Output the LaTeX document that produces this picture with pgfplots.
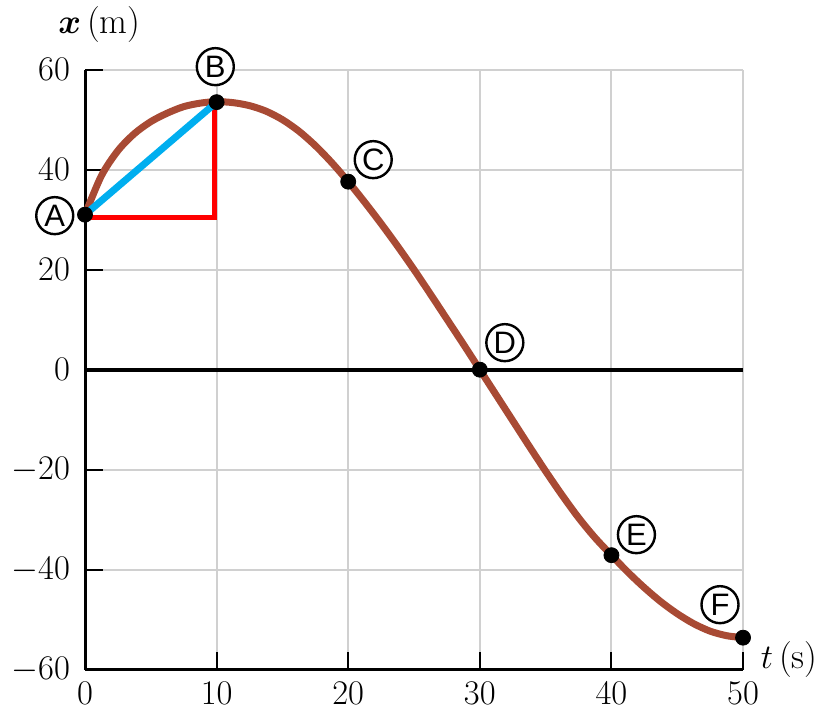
\documentclass[border=0pt]{standalone}
\usepackage{pgfplots}
\pgfplotsset{compat=1.18}
\usepackage{bm}
\usepackage{fontspec}
\newfontfamily\labelfont{Liberation Sans}

\definecolor{curvebrown}{RGB}{168,74,52}
\definecolor{chordblue}{RGB}{0,174,239}
\definecolor{gridgray}{RGB}{208,208,208}

% position x(t) of the particle
\pgfplotstableread{
t  x
0     31
1.25  38.8
2.5   43.8
3.75  47.2
5     49.6
6.25  51.3
7.5   52.6
8.75  53.3
10    53.6
11.25 53.4
12.5  52.8
13.75 51.7
15    50.0
16.25 47.7
17.5  44.8
18.75 41.4
20    37.6
21.25 33.5
22.5  29.2
23.75 24.7
25    20.0
26.25 15.1
27.5  10.1
28.75 5.1
30    0
31.25 -5.1
32.5  -10.2
33.75 -15.3
35    -20.3
36.25 -25.1
37.5  -29.6
38.75 -33.6
40    -37.1
41.25 -40.5
42.5  -43.6
43.75 -46.4
45    -48.8
46.25 -50.8
47.5  -52.3
48.75 -53.2
50    -53.6
}\position

% labelled instants A--F
\pgfplotstableread{
t  x
0  31
10 53.5
20 37.6
30 0
40 -37.1
50 -53.6
}\instants

\tikzset{
  pt/.style={circle, draw=black, fill=white, line width=1.2pt,
    minimum size=18.5pt, inner sep=0pt,
    font=\labelfont\fontsize{15.5}{15.5}\selectfont}
}

\begin{document}
\begin{tikzpicture}
\begin{axis}[
  scale only axis, width=329pt, height=300pt,
  xmin=0, xmax=50, ymin=-60, ymax=60,
  xtick={0,10,...,50}, ytick={-60,-40,...,60},
  axis x line*=bottom, axis y line*=left,
  axis line style={line width=1.5pt, black},
  tick style={black, line width=1pt},
  major tick length=9pt,
  tick align=inside,
  grid=major,
  major grid style={gridgray, line width=1pt},
  ticklabel style={font=\fontsize{18}{20}\selectfont},
  yticklabel style={xshift=-4pt},
  xticklabel style={yshift=-2.5pt},
  clip=false,
]
% zero line
\addplot[black, line width=2pt] coordinates {(0,0) (50,0)};

% x(t) curve
\addplot[curvebrown, line width=3.5pt, smooth, line cap=round]
  table[x=t, y=x] {\position};

% average-velocity triangle and chord from A to B
\addplot[red, line width=2.5pt, line join=miter]
  coordinates {(0,30.5) (9.85,30.5) (9.85,52.8)};
\addplot[chordblue, line width=3.5pt] coordinates {(0,31) (10,53.5)};

% points
\addplot[only marks, mark=*, mark size=3.75pt, black]
  table[x=t, y=x] {\instants};

\node[pt] at (axis cs:-2.3,30.8) {A};
\node[pt] at (axis cs:9.9,60.6) {B};
\node[pt] at (axis cs:21.9,42) {C};
\node[pt] at (axis cs:31.9,5.4) {D};
\node[pt] at (axis cs:41.9,-33) {E};
\node[pt] at (axis cs:48.25,-47) {F};

\node[font=\fontsize{18}{20}\selectfont] at (rel axis cs:0.022,1.075) {$\bm{x}$\,(m)};
\node[font=\fontsize{18}{20}\selectfont] at (rel axis cs:1.07,0.017) {$t$\,(s)};

\coordinate (bbsw) at (rel axis cs:-0.1292,-0.0833);
\coordinate (bbne) at (rel axis cs:1.1261,1.1117);
\end{axis}
\path (bbsw) rectangle (bbne);
\end{tikzpicture}
\end{document}
